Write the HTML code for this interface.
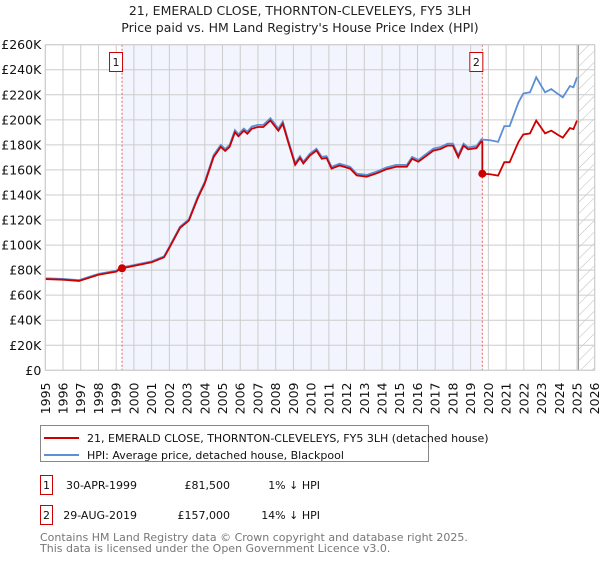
<!DOCTYPE html>
<html><head><meta charset="utf-8"><style>
body{margin:0;background:#fff;font-family:"DejaVu Sans","Liberation Sans",sans-serif;}
svg text{font-family:"DejaVu Sans","Liberation Sans",sans-serif;}
</style></head><body>
<svg id="c" width="600" height="560" xmlns="http://www.w3.org/2000/svg">
<defs><pattern id="hatch" width="8" height="8" patternUnits="userSpaceOnUse" patternTransform="rotate(45)"><line x1="0" y1="0" x2="0" y2="8" stroke="#bbb" stroke-width="1"/></pattern></defs>
<text x="300" y="15" text-anchor="middle" font-size="12.5" fill="#222">21, EMERALD CLOSE, THORNTON-CLEVELEYS, FY5 3LH</text>
<text x="300" y="32" text-anchor="middle" font-size="12.5" fill="#222">Price paid vs. HM Land Registry's House Price Index (HPI)</text>
<g id="plot"></g>
<g>
<rect x="40.5" y="425.5" width="388" height="36" fill="#fff" stroke="#888"/>
<line x1="44" y1="438" x2="79" y2="438" stroke="#cc0000" stroke-width="2"/>
<text x="87" y="442" font-size="11" fill="#111">21, EMERALD CLOSE, THORNTON-CLEVELEYS, FY5 3LH (detached house)</text>
<line x1="44" y1="455" x2="79" y2="455" stroke="#5b8fd6" stroke-width="2"/>
<text x="87" y="459" font-size="11" fill="#111">HPI: Average price, detached house, Blackpool</text>
</g>
<g font-size="11" fill="#111">
<rect x="40.5" y="475.5" width="12" height="19" fill="#fff" stroke="#cc0000"/><text x="46.5" y="489" text-anchor="middle">1</text>
<text x="137" y="489" text-anchor="end">30-APR-1999</text>
<text x="230" y="489" text-anchor="end">£81,500</text>
<text x="320" y="489" text-anchor="end">1% ↓ HPI</text>
<rect x="40.5" y="505.5" width="12" height="19" fill="#fff" stroke="#cc0000"/><text x="46.5" y="519" text-anchor="middle">2</text>
<text x="137" y="519" text-anchor="end">29-AUG-2019</text>
<text x="230" y="519" text-anchor="end">£157,000</text>
<text x="320" y="519" text-anchor="end">14% ↓ HPI</text>
</g>
<text x="40" y="541" font-size="11" fill="#777">Contains HM Land Registry data © Crown copyright and database right 2025.</text>
<text x="40" y="552" font-size="11" fill="#777">This data is licensed under the Open Government Licence v3.0.</text>
</svg>
<script>
const hpiYears=[1995.0,1996.0,1996.9,1998.0,1999.0,1999.25,1999.97,2001.0,2001.7,2002.0,2002.6,2003.1,2003.6,2004.0,2004.5,2004.9,2005.15,2005.4,2005.7,2005.9,2006.2,2006.4,2006.65,2007.0,2007.3,2007.7,2008.15,2008.4,2008.7,2009.1,2009.37,2009.56,2009.93,2010.3,2010.6,2010.87,2011.15,2011.6,2012.2,2012.57,2013.13,2013.7,2014.25,2014.8,2015.4,2015.7,2016.05,2016.4,2016.9,2017.3,2017.7,2018.0,2018.3,2018.6,2018.86,2019.33,2019.6,2020.1,2020.55,2020.9,2021.2,2021.7,2021.97,2022.35,2022.7,2023.2,2023.55,2023.93,2024.2,2024.6,2024.8,2025.0];
const hpiValues=[73.5,73,72,77,79.5,82,84,87,91,98.7,114.7,120.6,138.6,150.7,171.9,180,176.7,180,191.8,188.5,193,190.6,194.6,196,196,201.3,193,198.6,184,165.5,171,166.6,173,177,170.4,171,162.5,165,162.5,157,156,158.7,162,164,164,170.4,168,171.7,177,178.3,181,181,171.7,181,178,179,184.3,183.7,182.4,195,195,214,221,222,234,222,224.6,220.6,218,227,226,234];
const saleYears=[1999.33,2019.66];
const salePrices=[81.5,157];
const saleLabels=["1","2"];
const yTicks=[0,20,40,60,80,100,120,140,160,180,200,220,240,260];
const xTicks=[1995,1996,1997,1998,1999,2000,2001,2002,2003,2004,2005,2006,2007,2008,2009,2010,2011,2012,2013,2014,2015,2016,2017,2018,2019,2020,2021,2022,2023,2024,2025,2026];
const L=45.3,R=594.7,T=44.7,B=370.3,x0=1995,x1=2026,ymax=260,dataEnd=2025.08;
const X=v=>L+(v-x0)/(x1-x0)*(R-L);
const Y=v=>B-v/ymax*(B-T);
const NS="http://www.w3.org/2000/svg";
const g=document.getElementById('plot');
function mk(t,a){const e=document.createElementNS(NS,t);for(const k in a)e.setAttribute(k,a[k]);g.appendChild(e);return e;}
function hpiAt(t){for(let i=1;i<hpiYears.length;i++){if(t<=hpiYears[i]){const f=(t-hpiYears[i-1])/(hpiYears[i]-hpiYears[i-1]);return hpiValues[i-1]+f*(hpiValues[i]-hpiValues[i-1]);}}return hpiValues[hpiValues.length-1];}
let e;
e=mk('rect',{x:L,y:T,width:R-L,height:B-T,fill:'#fff'});


e=mk('rect',{x:X(saleYears[0]),y:T,width:X(saleYears[1])-X(saleYears[0]),height:B-T,fill:'#f2f5fd'});


e=mk('rect',{x:X(dataEnd),y:T,width:R-X(dataEnd),height:B-T,fill:'url(#hatch)'});


xTicks.forEach(t=>{
 e=mk('line',{x1:X(t),x2:X(t),y1:T,y2:B,stroke:'#ccc','stroke-width':1});
 
 
 const tx=X(t)+4.5,ty=B+44;
 e=mk('text',{x:tx,y:ty,transform:`rotate(-90 ${tx} ${ty})`,'font-size':12.5,fill:'#111'});
 e.textContent=t;
 
 
});
yTicks.forEach(t=>{
 e=mk('line',{x1:L,x2:R,y1:Y(t),y2:Y(t),stroke:'#ccc','stroke-width':1});
 
 
 e=mk('text',{x:L-4,y:Y(t)+4.5,'text-anchor':'end','font-size':12.5,fill:'#111'});
 e.textContent=t===0?'£0':'£'+t+'K';
 
 
});
e=mk('line',{x1:X(dataEnd),x2:X(dataEnd),y1:T,y2:B,stroke:'#999','stroke-width':1.2});


saleYears.forEach((s,i)=>{
 e=mk('line',{x1:X(s),x2:X(s),y1:T,y2:B,stroke:'#f06060','stroke-width':1,'stroke-dasharray':'2,2'});
 
 
});
e=mk('polyline',{points:hpiYears.map((t,i)=>X(t)+','+Y(hpiValues[i])).join(' '),fill:'none',stroke:'#5b8fd6','stroke-width':1.8});


const r1=salePrices[0]/hpiAt(saleYears[0]), r2=salePrices[1]/hpiAt(saleYears[1]);
const pts=[];
hpiYears.forEach((t,i)=>{if(t<saleYears[1])pts.push([t,hpiValues[i]*r1]);});
pts.push([saleYears[1],hpiAt(saleYears[1])*r1]);
pts.push([saleYears[1],salePrices[1]]);
hpiYears.forEach((t,i)=>{if(t>saleYears[1])pts.push([t,hpiValues[i]*r2]);});
e=mk('polyline',{points:pts.map(p=>X(p[0])+','+Y(p[1])).join(' '),fill:'none',stroke:'#cc0000','stroke-width':1.8});


saleYears.forEach((s,i)=>{
 e=mk('circle',{cx:X(s),cy:Y(salePrices[i]),r:4,fill:'#cc0000'});
 
 
 e=mk('rect',{x:X(s)-12.5,y:52.5,width:13,height:19,fill:'#fff',stroke:'#cc0000'});
 
 
 e=mk('text',{x:X(s)-6,y:66,'text-anchor':'middle','font-size':11,fill:'#111'});
 e.textContent=saleLabels[i];
 
 
});
e=mk('rect',{x:L,y:T,width:R-L,height:B-T,fill:'none',stroke:'#ccc'});


</script>
</body></html>
